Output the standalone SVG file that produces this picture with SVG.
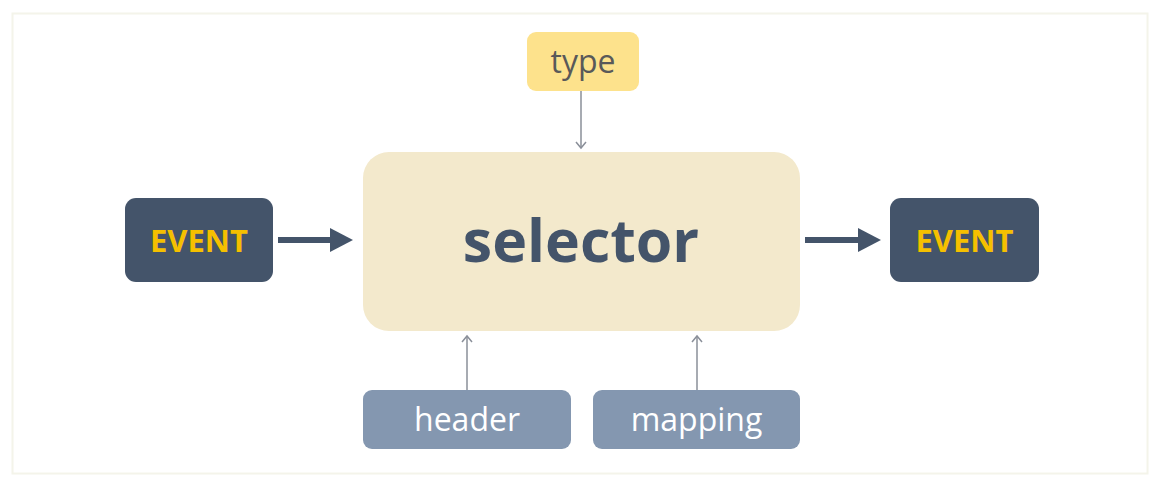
<svg xmlns="http://www.w3.org/2000/svg" width="1168" height="484" viewBox="0 0 1168 484">
<style>
.dark{fill:#44546a}
.ev{font-family:"Open Sans","Liberation Sans",sans-serif;font-weight:bold;font-size:31px;fill:#f5c000;text-anchor:middle}
.lbl{font-family:"Open Sans","Liberation Sans",sans-serif;font-size:32px;text-anchor:middle}
.thin{stroke:#8a8f99;stroke-width:1.5;fill:none}
.thick{stroke:#44546a;stroke-width:6;fill:none}
</style>
<rect x="0" y="0" width="1168" height="484" fill="#ffffff"/>
<rect x="12.5" y="13.5" width="1135" height="460" fill="#ffffff" stroke="#f4f4ea" stroke-width="2"/>
<g id="connectors">
<line class="thick" x1="278" y1="240" x2="332" y2="240"/>
<polygon class="dark" points="330,228 353,240 330,252"/>
<line class="thick" x1="805" y1="240" x2="860" y2="240"/>
<polygon class="dark" points="858,228 881,240 858,252"/>
<line class="thin" x1="581" y1="91" x2="581" y2="148"/>
<path class="thin" d="M576,142 L581,148 L586,142"/>
<line class="thin" x1="467" y1="390" x2="467" y2="336"/>
<path class="thin" d="M462,342 L467,336 L472,342"/>
<line class="thin" x1="697" y1="390" x2="697" y2="336"/>
<path class="thin" d="M692,342 L697,336 L702,342"/>
</g>
<g id="event-in">
<rect x="125" y="198" width="148" height="84" rx="11" class="dark"/>
<text x="199" y="252" class="ev">EVENT</text>
</g>
<g id="selector">
<rect x="363" y="152" width="437" height="179" rx="26" fill="#f3e9cc"/>
<text x="581" y="262" font-family="Open Sans, Liberation Sans, sans-serif" font-weight="bold" font-size="59" fill="#44546a" text-anchor="middle">selector</text>
</g>
<g id="event-out">
<rect x="890" y="198" width="149" height="84" rx="11" class="dark"/>
<text x="964.500" y="252" class="ev">EVENT</text>
</g>
<g id="type">
<rect x="527" y="32" width="112" height="59" rx="9" fill="#fde28c"/>
<text x="583" y="73" class="lbl" fill="#595959">type</text>
</g>
<g id="header">
<rect x="363" y="390" width="208" height="59" rx="9" fill="#8497b0"/>
<text x="467" y="431" class="lbl" fill="#ffffff">header</text>
</g>
<g id="mapping">
<rect x="593" y="390" width="207" height="59" rx="9" fill="#8497b0"/>
<text x="696.500" y="431" class="lbl" fill="#ffffff">mapping</text>
</g>
</svg>
